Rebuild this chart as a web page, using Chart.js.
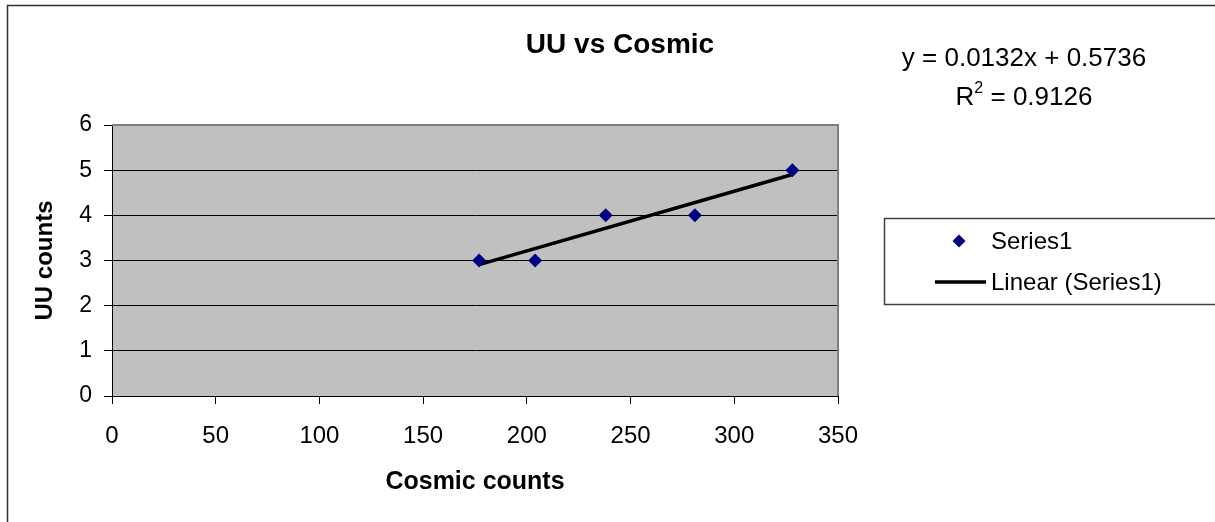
<!DOCTYPE html>
<html>
<head>
<meta charset="utf-8">
<script src="https://cdn.jsdelivr.net/npm/chart.js@4/dist/chart.umd.min.js"></script>
<style>
  html, body { margin: 0; padding: 0; background: #ffffff; }
  #wrap { width: 1215px; height: 522px; position: relative; }
</style>
</head>
<body>
<div id="wrap"><canvas id="c" width="1215" height="522"></canvas></div>
<script>
// Measurements
const cosmicCounts = [177, 204, 238, 281, 328];
const uuCounts = [3, 3, 4, 4, 5];

// Linear fit reported for the series
const trendSlope = 0.0132;
const trendIntercept = 0.5736;
const trendR2 = 0.9126;

// Axis ranges / tick steps
const xTickMin = 0, xTickMax = 350, xTickStep = 50;
const yTickMin = 0, yTickMax = 6, yTickStep = 1;

const chartTitle = 'UU vs Cosmic';
const xTitle = 'Cosmic counts';
const yTitle = 'UU counts';
const seriesName = 'Series1';
const trendName = 'Linear (Series1)';

const FONT = '"Liberation Sans", Arial, sans-serif';

const points = cosmicCounts.map((x, i) => ({ x: x, y: uuCounts[i] }));
const xLo = Math.min(...cosmicCounts), xHi = Math.max(...cosmicCounts);
const trendPoints = [xLo, xHi].map(x => ({ x: x, y: trendSlope * x + trendIntercept }));

// Grey plot background, frame, outer border, title, equation and legend
const decor = {
  id: 'decor',
  beforeDraw(chart) {
    const { ctx, chartArea: a } = chart;
    ctx.save();
    ctx.fillStyle = '#ffffff';
    ctx.fillRect(0, 0, chart.width, chart.height);
    ctx.fillStyle = '#c0c0c0';
    ctx.fillRect(a.left, a.top, a.right - a.left, a.bottom - a.top);
    // outer chart border (top and left edges)
    ctx.strokeStyle = '#303030';
    ctx.lineWidth = 1.5;
    ctx.beginPath();
    ctx.moveTo(7.5, chart.height + 2);
    ctx.lineTo(7.5, 5.5);
    ctx.lineTo(chart.width + 2, 5.5);
    ctx.stroke();
    ctx.restore();
  },
  beforeDatasetsDraw(chart) {
    const { ctx, chartArea: a } = chart;
    ctx.save();
    ctx.strokeStyle = '#808080';
    ctx.lineWidth = 2;
    ctx.beginPath();
    ctx.moveTo(a.left, a.top);
    ctx.lineTo(a.right, a.top);
    ctx.lineTo(a.right, a.bottom);
    ctx.stroke();
    ctx.restore();
  },
  afterDraw(chart) {
    const { ctx } = chart;
    ctx.save();
    ctx.fillStyle = '#000000';
    ctx.textBaseline = 'alphabetic';

    // title
    ctx.font = 'bold 28px ' + FONT;
    ctx.textAlign = 'center';
    ctx.fillText(chartTitle, 620, 53);

    // regression equation
    ctx.font = '26px ' + FONT;
    ctx.fillText('y = ' + trendSlope + 'x + ' + trendIntercept, 1024, 66);
    const rA = 'R', rB = ' = ' + trendR2;
    const wA = ctx.measureText(rA).width, wB = ctx.measureText(rB).width;
    ctx.font = '16px ' + FONT;
    const wS = ctx.measureText('2').width;
    let x0 = 1024 - (wA + wS + wB) / 2;
    ctx.textAlign = 'left';
    ctx.font = '26px ' + FONT;
    ctx.fillText(rA, x0, 105);
    ctx.font = '16px ' + FONT;
    ctx.fillText('2', x0 + wA, 93);
    ctx.font = '26px ' + FONT;
    ctx.fillText(rB, x0 + wA + wS, 105);

    // legend
    const ds = chart.data.datasets;
    ctx.strokeStyle = '#404040';
    ctx.lineWidth = 1.5;
    ctx.strokeRect(884.5, 218.5, 400, 86);
    // marker entry
    const m = ds[0];
    ctx.fillStyle = m.pointBackgroundColor;
    ctx.beginPath();
    ctx.moveTo(959 - 6.5, 241);
    ctx.lineTo(959, 241 - 6.5);
    ctx.lineTo(959 + 6.5, 241);
    ctx.lineTo(959, 241 + 6.5);
    ctx.closePath();
    ctx.fill();
    ctx.fillStyle = '#000000';
    ctx.font = '24px ' + FONT;
    ctx.fillText(m.label, 991, 249);
    // line entry
    const t = ds[1];
    ctx.strokeStyle = t.borderColor;
    ctx.lineWidth = t.borderWidth;
    ctx.beginPath();
    ctx.moveTo(935, 282);
    ctx.lineTo(986, 282);
    ctx.stroke();
    ctx.fillText(t.label, 991, 290);
    ctx.restore();
  }
};

new Chart(document.getElementById('c'), {
  type: 'scatter',
  data: {
    datasets: [
      {
        label: seriesName,
        data: points,
        showLine: false,
        pointStyle: 'rectRot',
        pointRadius: 7,
        pointHoverRadius: 7,
        pointBackgroundColor: '#000080',
        pointBorderColor: '#000080',
        pointBorderWidth: 0,
        order: 1
      },
      {
        label: trendName,
        data: trendPoints,
        showLine: true,
        borderColor: '#000000',
        borderWidth: 3.5,
        pointRadius: 0,
        pointHoverRadius: 0,
        fill: false,
        order: 2
      }
    ]
  },
  options: {
    responsive: false,
    animation: false,
    events: [],
    layout: { padding: { top: 125, right: 377, left: 0, bottom: 0 } },
    plugins: {
      legend: { display: false },
      title: { display: false },
      tooltip: { enabled: false }
    },
    scales: {
      x: {
        type: 'linear',
        min: xTickMin,
        max: xTickMax,
        afterFit(s) { s.height = 126; },
        ticks: {
          stepSize: xTickStep,
          color: '#000000',
          padding: 18,
          maxRotation: 0,
          font: { family: FONT, size: 24 }
        },
        grid: {
          display: true,
          drawOnChartArea: false,
          drawTicks: true,
          tickLength: 8,
          tickColor: '#000000',
          color: '#000000'
        },
        border: { display: true, color: '#000000', width: 1 },
        title: {
          display: true,
          text: xTitle,
          color: '#000000',
          font: { family: FONT, size: 25, weight: 'bold' },
          padding: { top: 0, bottom: 25 }
        }
      },
      y: {
        type: 'linear',
        min: yTickMin,
        max: yTickMax,
        afterFit(s) { s.width = 112; },
        ticks: {
          stepSize: yTickStep,
          color: '#000000',
          padding: 12,
          font: { family: FONT, size: 23 }
        },
        grid: {
          display: true,
          drawOnChartArea: true,
          drawTicks: true,
          tickLength: 8,
          color: '#000000',
          tickColor: '#000000',
          lineWidth: 1
        },
        border: { display: true, color: '#000000', width: 1 },
        title: {
          display: true,
          text: yTitle,
          color: '#000000',
          font: { family: FONT, size: 24, weight: 'bold' },
          padding: { top: 31, bottom: 0 }
        }
      }
    }
  },
  plugins: [decor]
});
</script>
</body>
</html>
